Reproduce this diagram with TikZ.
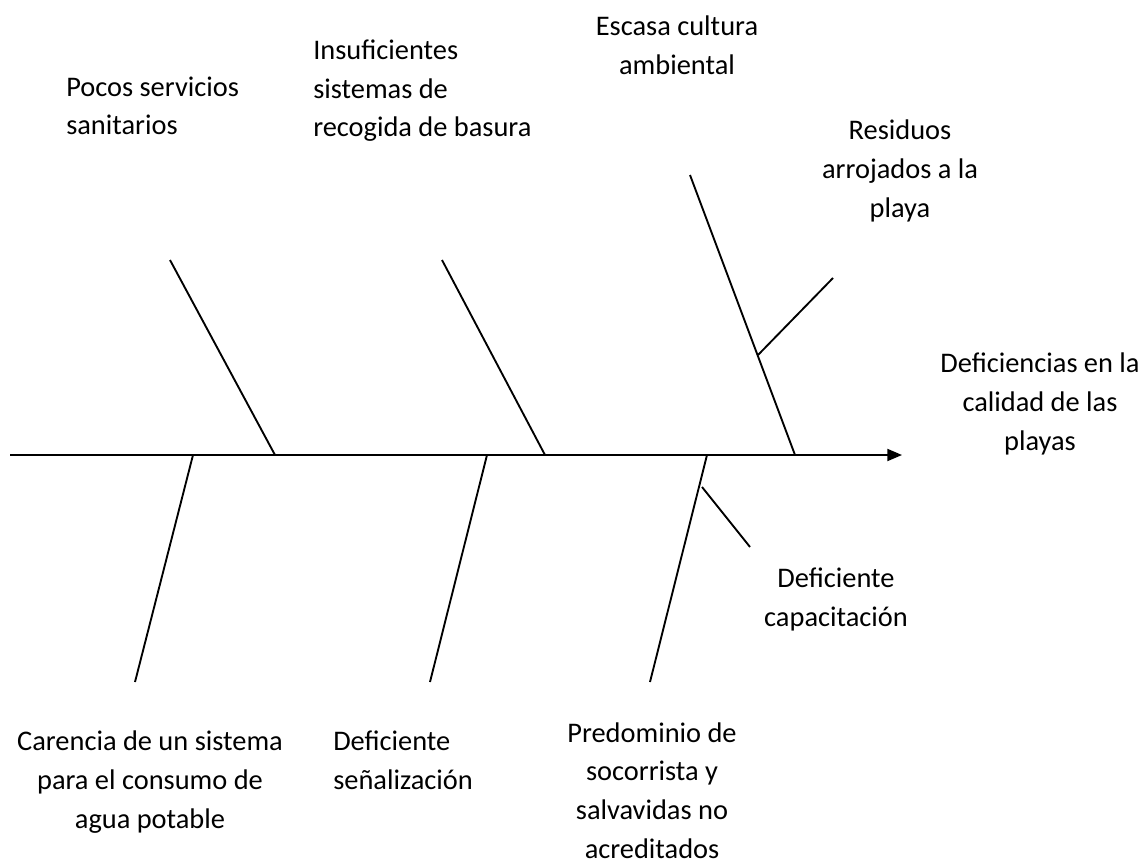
\documentclass[tikz,border=0pt]{standalone}
\usepackage{fontspec}
\setmainfont{Carlito}
\usetikzlibrary{arrows.meta}
\tikzset{
  texto/.style={inner sep=0pt, font=\fontsize{21.3}{28.9}\selectfont},
  espina/.style={line width=1.4pt}
}
\begin{document}
\begin{tikzpicture}[x=0.75pt,y=-0.75pt]
      \useasboundingbox (0,0) rectangle (1145,863);
      % espina central
      \coordinate (ini) at (10,455); \coordinate (fin) at (902,455);
      \draw[espina,-{Triangle[length=11pt,width=9pt]}] (ini) -- (fin);

      % causas de arriba
      \coordinate (a1) at (170,260); \coordinate (b1) at (275,455);
      \coordinate (a2) at (442,260); \coordinate (b2) at (545,455);
      \coordinate (a3) at (690,175); \coordinate (b3) at (795,455);
      \coordinate (c3) at (758,355); \coordinate (d3) at (833,278);
      \draw[espina] (a1) -- (b1); \draw[espina] (a2) -- (b2); \draw[espina] (a3) -- (b3); \draw[espina] (c3) -- (d3);

      % causas de abajo
      \coordinate (a4) at (193,455); \coordinate (b4) at (135,682);
      \coordinate (a5) at (487,455); \coordinate (b5) at (430,682);
      \coordinate (a6) at (707,455); \coordinate (b6) at (650,682);
      \coordinate (c6) at (702,487); \coordinate (d6) at (750,547);
      \draw[espina] (a4) -- (b4); \draw[espina] (a5) -- (b5); \draw[espina] (a6) -- (b6); \draw[espina] (c6) -- (d6);

      % textos (anclados en la linea base de su ultima linea)
      \node[texto,anchor=base west,align=left] (pocos) at (66,135) {Pocos servicios\\sanitarios};
      \node[texto,anchor=base west,align=left] (insuf) at (313,137) {Insuficientes\\sistemas de\\recogida de basura};
      \node[texto,anchor=base,align=center] (escasa) at (677,74.5) {Escasa cultura\\ambiental};
      \node[texto,anchor=base,align=center] (residuos) at (900,217) {Residuos\\arrojados a la\\playa};
      \node[texto,anchor=base,align=center] (efecto) at (1040,450) {Deficiencias en la\\calidad de las\\playas};
      \node[texto,anchor=base,align=center] (capac) at (836,626) {Deficiente\\capacitación};
      \node[texto,anchor=base,align=center] (carencia) at (150,828) {Carencia de un sistema\\para el consumo de\\agua potable};
      \node[texto,anchor=base west,align=left] (senal) at (333,789) {Deficiente\\señalización};
      \node[texto,anchor=base,align=center] (predom) at (652,858) {Predominio de\\socorrista y\\salvavidas no\\acreditados};
\end{tikzpicture}
\end{document}
